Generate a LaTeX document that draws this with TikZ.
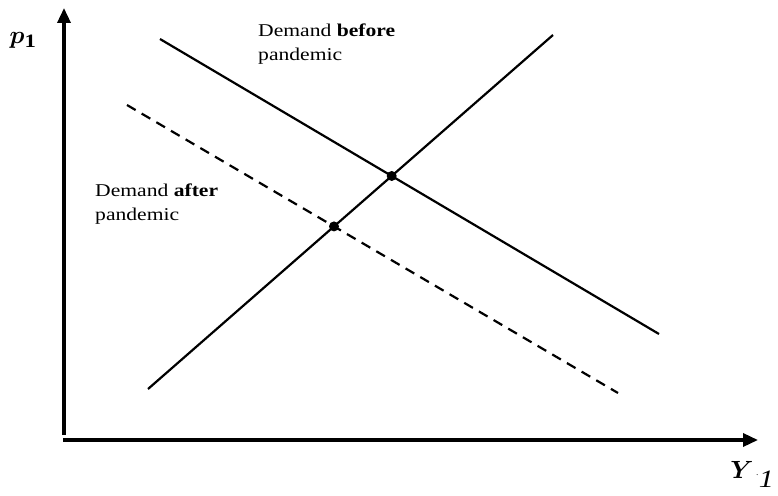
\documentclass[tikz,border=0pt]{standalone}
\usepackage{amsmath, amssymb, bm}
\usepackage{fontspec}
\setmainfont[FakeStretch=1.2]{Liberation Serif}
\usepackage{tikz}
\usetikzlibrary{arrows.meta}

\tikzset{
  axis/.style={line width=3.4pt, -{Triangle[length=15pt, width=13pt]}},
  curve/.style={line width=2.2pt},
  shifted/.style={curve, dash pattern=on 10pt off 7pt},
  dot/.style={circle, fill=black, inner sep=0pt, minimum size=10pt},
  lbl/.style={font=\fontsize{18}{24}\selectfont, align=left, anchor=north west, inner sep=0pt}
}

\begin{document}
\begin{tikzpicture}[x=1pt, y=-1pt]
        \useasboundingbox (0,0) rectangle (778,495);
        % Achsen
        \coordinate (o1) at (64,435);
        \coordinate (ytop) at (64,8);
        \coordinate (o2) at (63,440);
        \coordinate (xend) at (758,440);
        \draw[axis] (o1) -- (ytop);
        \draw[axis] (o2) -- (xend);
        \node[font=\fontsize{27}{30}\selectfont, inner sep=0pt] (pone) at (22,40) {$\bm{p}_{\mathbf{1}}$};
        \node[font=\fontsize{27}{30}\selectfont, inner sep=0pt] (ylab) at (742,470) {$\bm{Y}$};
        \node[font=\footnotesize, inner sep=0pt, anchor=base west] (ydot) at (756,475) {.};
        \node[font=\fontsize{25}{28}\selectfont\itshape, inner sep=0pt, anchor=south east] (yone) at (774,488) {1};
        % Angebot und Nachfrage
        \coordinate (s0) at (148,389);
        \coordinate (s1) at (553,35);
        \coordinate (d0) at (160,39);
        \coordinate (d1) at (659,334);
        \coordinate (a0) at (127,105);
        \coordinate (a1) at (618,393);
        \draw[curve] (s0) -- (s1);
        \draw[curve] (d0) -- (d1);
        \draw[shifted] (a0) -- (a1);
        \node[dot] (eqbefore) at (intersection of s0--s1 and d0--d1) {};
        \node[dot] (eqafter) at (intersection of s0--s1 and a0--a1) {};
        % Beschriftung
        \node[lbl] (before) at (258,24) {Demand \textbf{before}\\pandemic};
        \node[lbl] (after) at (95,184) {Demand \textbf{after}\\pandemic};
      \end{tikzpicture}
\end{document}
